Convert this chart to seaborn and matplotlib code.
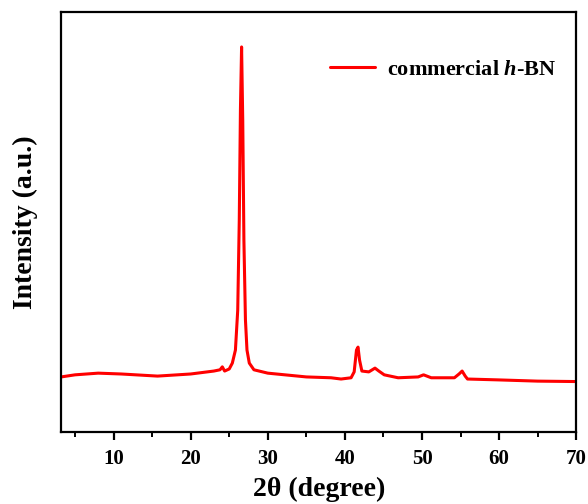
import numpy as np
import pandas as pd
import matplotlib
matplotlib.use("Agg")
import matplotlib.pyplot as plt
import seaborn as sns
from matplotlib.ticker import MultipleLocator

two_theta = [3.2, 5, 8, 11, 15.7, 20, 23, 23.8, 24.1, 24.4, 25.0, 25.4, 25.8, 26.1, 26.3,
             26.45, 26.6, 26.75, 26.9, 27.1, 27.3, 27.6, 28.2, 30, 35, 38.2, 39.5, 40.8,
             41.2, 41.5, 41.7, 41.9, 42.2, 43.1, 43.9, 44.4, 45.1, 46.9, 49.5, 50.2, 51.2,
             54.2, 54.8, 55.2, 55.6, 55.9, 59.8, 65, 70]
intensity = [13.1, 13.6, 14.0, 13.8, 13.3, 13.8, 14.5, 14.8, 15.5, 14.5, 15.0, 16.4, 19.5,
             29.0, 50.5, 76.7, 91.7, 74.3, 45.7, 26.7, 19.5, 16.4, 14.8, 14.0, 13.1, 12.9,
             12.6, 12.9, 14.3, 19.5, 20.2, 17.1, 14.5, 14.3, 15.2, 14.5, 13.6, 12.9, 13.1,
             13.6, 12.9, 12.9, 13.8, 14.5, 13.3, 12.6, 12.4, 12.1, 12.0]
series_label = "commercial $\\mathit{h}$-BN"
x_ticks = [10, 20, 30, 40, 50, 60, 70]

sns.set_style("ticks")
plt.rcParams["font.family"] = ["Liberation Serif", "DejaVu Serif"]
plt.rcParams["font.weight"] = "bold"
plt.rcParams["text.color"] = "black"
plt.rcParams["axes.labelcolor"] = "black"
plt.rcParams["xtick.color"] = "black"
plt.rcParams["mathtext.fontset"] = "custom"
plt.rcParams["mathtext.rm"] = "Liberation Serif:bold"
plt.rcParams["mathtext.it"] = "Liberation Serif:italic:bold"
plt.rcParams["mathtext.bf"] = "Liberation Serif:bold"

df = pd.DataFrame({"2theta": two_theta, "Intensity": intensity})

fig = plt.figure(figsize=(5.88, 5.04), dpi=100)
ax = fig.add_axes([0.104, 0.143, 0.876, 0.833])
sns.lineplot(data=df, x="2theta", y="Intensity", ax=ax, color="#ff0000",
             linewidth=2.2, label=series_label)

ax.set_xlim(3.2, 70)
ax.set_ylim(0, 100)
ax.set_xticks(x_ticks)
ax.xaxis.set_minor_locator(MultipleLocator(5))
ax.set_yticks([])
for s in ax.spines.values():
    s.set_visible(True)
    s.set_linewidth(1.6)
    s.set_color("black")
ax.tick_params(axis="x", which="major", direction="out", length=6, width=1.6,
               labelsize=15, pad=6, colors="black")
ax.tick_params(axis="x", which="minor", direction="out", length=3.5, width=1.4)
for lab in ax.get_xticklabels():
    lab.set_fontweight("bold")
ax.set_xlabel("2θ (degree)", fontsize=20, fontweight="bold", labelpad=6, color="black")
ax.set_ylabel("Intensity (a.u.)", fontsize=20, fontweight="bold", labelpad=17, color="black")

leg = ax.legend(loc="upper right", frameon=False, fontsize=16, handlelength=2.0,
                handletextpad=0.55, bbox_to_anchor=(1.0, 0.935))
for t in leg.get_texts():
    t.set_fontweight("bold")
    t.set_color("black")

fig.savefig("out.png", dpi=100)
